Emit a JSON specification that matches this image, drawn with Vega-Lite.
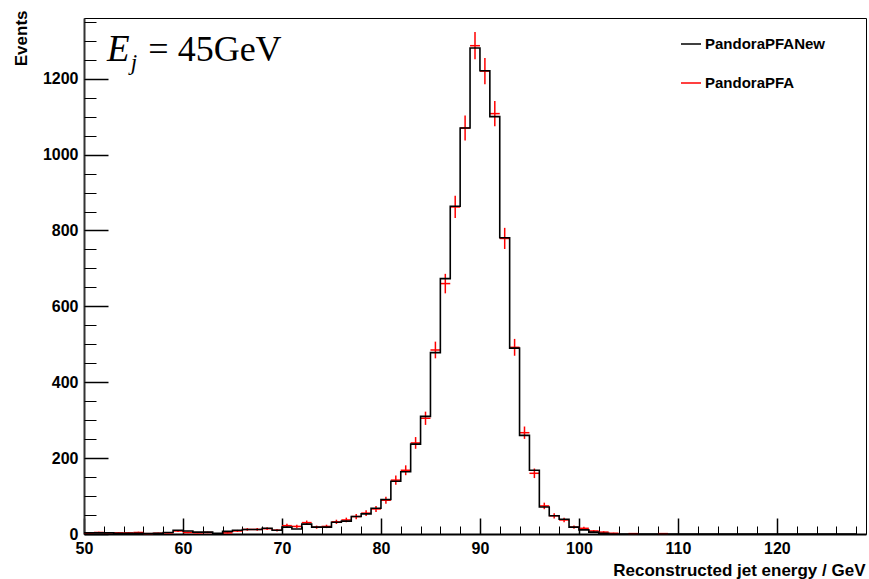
{
  "$schema": "https://vega.github.io/schema/vega-lite/v6.json",
  "width": 782,
  "height": 516,
  "autosize": "none",
  "padding": {"left": 84, "top": 18, "right": 3, "bottom": 45},
  "background": "white",
  "config": {"view": {"stroke": "black", "strokeWidth": 1}, "font": "Liberation Sans"},
  "data": {"values": [
    {"lo":50,"hi":51,"c":50.5,"new":3,"pfa":2,"err":1.4},
    {"lo":51,"hi":52,"c":51.5,"new":3,"pfa":4,"err":2},
    {"lo":52,"hi":53,"c":52.5,"new":3,"pfa":3,"err":1.7},
    {"lo":53,"hi":54,"c":53.5,"new":2,"pfa":3,"err":1.7},
    {"lo":54,"hi":55,"c":54.5,"new":2,"pfa":3,"err":1.7},
    {"lo":55,"hi":56,"c":55.5,"new":2,"pfa":4,"err":2},
    {"lo":56,"hi":57,"c":56.5,"new":1,"pfa":1,"err":1},
    {"lo":57,"hi":58,"c":57.5,"new":2,"pfa":2,"err":1.4},
    {"lo":58,"hi":59,"c":58.5,"new":4,"pfa":3,"err":1.7},
    {"lo":59,"hi":60,"c":59.5,"new":10,"pfa":8,"err":2.8},
    {"lo":60,"hi":61,"c":60.5,"new":8,"pfa":4,"err":2},
    {"lo":61,"hi":62,"c":61.5,"new":5,"pfa":3,"err":1.7},
    {"lo":62,"hi":63,"c":62.5,"new":5,"pfa":4,"err":2},
    {"lo":63,"hi":64,"c":63.5,"new":2,"pfa":0,"err":0},
    {"lo":64,"hi":65,"c":64.5,"new":7,"pfa":3,"err":1.7},
    {"lo":65,"hi":66,"c":65.5,"new":10,"pfa":8,"err":2.8},
    {"lo":66,"hi":67,"c":66.5,"new":12,"pfa":12,"err":3.5},
    {"lo":67,"hi":68,"c":67.5,"new":12,"pfa":12,"err":3.5},
    {"lo":68,"hi":69,"c":68.5,"new":15,"pfa":14,"err":3.7},
    {"lo":69,"hi":70,"c":69.5,"new":10,"pfa":10,"err":3.2},
    {"lo":70,"hi":71,"c":70.5,"new":18,"pfa":22,"err":4.7},
    {"lo":71,"hi":72,"c":71.5,"new":13,"pfa":20,"err":4.5},
    {"lo":72,"hi":73,"c":72.5,"new":26,"pfa":30,"err":5.5},
    {"lo":73,"hi":74,"c":73.5,"new":18,"pfa":18,"err":4.2},
    {"lo":74,"hi":75,"c":74.5,"new":18,"pfa":20,"err":4.5},
    {"lo":75,"hi":76,"c":75.5,"new":31,"pfa":32,"err":5.7},
    {"lo":76,"hi":77,"c":76.5,"new":34,"pfa":37,"err":6.1},
    {"lo":77,"hi":78,"c":77.5,"new":46,"pfa":46,"err":6.8},
    {"lo":78,"hi":79,"c":78.5,"new":53,"pfa":55,"err":7.4},
    {"lo":79,"hi":80,"c":79.5,"new":68,"pfa":66,"err":8.1},
    {"lo":80,"hi":81,"c":80.5,"new":91,"pfa":89,"err":9.4},
    {"lo":81,"hi":82,"c":81.5,"new":139,"pfa":142,"err":11.9},
    {"lo":82,"hi":83,"c":82.5,"new":164,"pfa":168,"err":13},
    {"lo":83,"hi":84,"c":83.5,"new":237,"pfa":240,"err":15.5},
    {"lo":84,"hi":85,"c":84.5,"new":310,"pfa":305,"err":17.5},
    {"lo":85,"hi":86,"c":85.5,"new":478,"pfa":485,"err":22},
    {"lo":86,"hi":87,"c":86.5,"new":673,"pfa":660,"err":25.7},
    {"lo":87,"hi":88,"c":87.5,"new":864,"pfa":862,"err":29.4},
    {"lo":88,"hi":89,"c":88.5,"new":1070,"pfa":1070,"err":32.7},
    {"lo":89,"hi":90,"c":89.5,"new":1281,"pfa":1287,"err":35.9},
    {"lo":90,"hi":91,"c":90.5,"new":1221,"pfa":1220,"err":34.9},
    {"lo":91,"hi":92,"c":91.5,"new":1100,"pfa":1108,"err":33.3},
    {"lo":92,"hi":93,"c":92.5,"new":781,"pfa":779,"err":27.9},
    {"lo":93,"hi":94,"c":93.5,"new":490,"pfa":492,"err":22.2},
    {"lo":94,"hi":95,"c":94.5,"new":260,"pfa":267,"err":16.3},
    {"lo":95,"hi":96,"c":95.5,"new":168,"pfa":160,"err":12.6},
    {"lo":96,"hi":97,"c":96.5,"new":71,"pfa":74,"err":8.6},
    {"lo":97,"hi":98,"c":97.5,"new":48,"pfa":48,"err":6.9},
    {"lo":98,"hi":99,"c":98.5,"new":39,"pfa":37,"err":6.1},
    {"lo":99,"hi":100,"c":99.5,"new":18,"pfa":18,"err":4.2},
    {"lo":100,"hi":101,"c":100.5,"new":11,"pfa":15,"err":3.9},
    {"lo":101,"hi":102,"c":101.5,"new":5,"pfa":8,"err":2.8},
    {"lo":102,"hi":103,"c":102.5,"new":2,"pfa":5,"err":2.2},
    {"lo":103,"hi":104,"c":103.5,"new":0,"pfa":2,"err":1.4},
    {"lo":104,"hi":105,"c":104.5,"new":0,"pfa":0,"err":0},
    {"lo":105,"hi":106,"c":105.5,"new":0,"pfa":1,"err":1},
    {"lo":106,"hi":107,"c":106.5,"new":0,"pfa":0,"err":0},
    {"lo":107,"hi":108,"c":107.5,"new":0,"pfa":0,"err":0},
    {"lo":108,"hi":109,"c":108.5,"new":0,"pfa":1,"err":1},
    {"lo":109,"hi":110,"c":109.5,"new":0,"pfa":0,"err":0},
    {"lo":110,"hi":111,"c":110.5,"new":0,"pfa":0,"err":0},
    {"lo":111,"hi":112,"c":111.5,"new":0,"pfa":0,"err":0},
    {"lo":112,"hi":113,"c":112.5,"new":0,"pfa":0,"err":0},
    {"lo":113,"hi":114,"c":113.5,"new":0,"pfa":0,"err":0},
    {"lo":114,"hi":115,"c":114.5,"new":0,"pfa":0,"err":0},
    {"lo":115,"hi":116,"c":115.5,"new":0,"pfa":0,"err":0},
    {"lo":116,"hi":117,"c":116.5,"new":0,"pfa":0,"err":0},
    {"lo":117,"hi":118,"c":117.5,"new":0,"pfa":0,"err":0},
    {"lo":118,"hi":119,"c":118.5,"new":0,"pfa":0,"err":0},
    {"lo":119,"hi":120,"c":119.5,"new":0,"pfa":0,"err":0},
    {"lo":120,"hi":121,"c":120.5,"new":0,"pfa":0,"err":0},
    {"lo":121,"hi":122,"c":121.5,"new":0,"pfa":0,"err":0},
    {"lo":122,"hi":123,"c":122.5,"new":0,"pfa":0,"err":0},
    {"lo":123,"hi":124,"c":123.5,"new":0,"pfa":0,"err":0},
    {"lo":124,"hi":125,"c":124.5,"new":0,"pfa":0,"err":0},
    {"lo":125,"hi":126,"c":125.5,"new":0,"pfa":0,"err":0},
    {"lo":126,"hi":127,"c":126.5,"new":0,"pfa":0,"err":0},
    {"lo":127,"hi":128,"c":127.5,"new":0,"pfa":0,"err":0},
    {"lo":128,"hi":129,"c":128.5,"new":0,"pfa":0,"err":0}
  ]},
  "layer": [
    {
      "transform": [{"filter": "datum.pfa > 0"}],
      "mark": {"type": "rule", "strokeWidth": 1.5},
      "encoding": {
        "x": {"field": "lo", "type": "quantitative",
          "axis": {"orient": "bottom", "values": [50,60,70,80,90,100,110,120], "labels": false, "domain": false, "grid": false, "ticks": true, "tickSize": -16, "tickWidth": 1.5, "tickColor": "black", "title": null}},
        "x2": {"field": "hi"},
        "y": {"field": "pfa", "type": "quantitative",
          "axis": {"orient": "left", "values": [0,200,400,600,800,1000,1200], "labels": false, "domain": false, "grid": false, "ticks": true, "tickSize": -24, "tickWidth": 1.5, "tickColor": "black", "title": null}},
        "color": {"datum": "PandoraPFA", "type": "nominal"}
      }
    },
    {
      "transform": [{"filter": "datum.pfa > 0"}],
      "mark": {"type": "errorbar", "color": "red", "thickness": 1.5},
      "encoding": {
        "x": {"field": "c", "type": "quantitative", "axis": null},
        "y": {"field": "pfa", "type": "quantitative", "axis": null},
        "yError": {"field": "err"}
      }
    },
    {
      "mark": {"type": "line", "interpolate": "step-after", "strokeWidth": 1.6},
      "encoding": {
        "x": {"field": "lo", "type": "quantitative",
          "scale": {"domain": [50, 129], "nice": false, "zero": false},
          "axis": {"orient": "bottom", "values": [50,60,70,80,90,100,110,120], "format": "d", "ticks": false, "grid": false,
            "labelFont": "Liberation Sans", "labelFontWeight": "bold", "labelFontSize": 16, "labelColor": "black", "labelPadding": 6, "labelFlush": false, "labelOverlap": false,
            "domain": true, "domainColor": "black", "domainWidth": 2,
            "title": "Reconstructed jet energy / GeV", "titleFont": "Liberation Sans", "titleFontWeight": "bold", "titleFontSize": 17, "titleColor": "black",
            "titleAnchor": "end", "titleAlign": "right", "titleBaseline": "alphabetic", "titleX": 781, "titleY": 41}},
        "y": {"field": "new", "type": "quantitative",
          "scale": {"domain": [0, 1360], "nice": false},
          "axis": {"orient": "left", "values": [0,200,400,600,800,1000,1200], "format": "d", "ticks": false, "grid": false,
            "labelFont": "Liberation Sans", "labelFontWeight": "bold", "labelFontSize": 16, "labelColor": "black", "labelPadding": 6, "labelFlush": false, "labelOverlap": false,
            "domain": true, "domainColor": "#333333", "domainWidth": 2,
            "title": "Events", "titleFont": "Liberation Sans", "titleFontWeight": "bold", "titleFontSize": 17, "titleColor": "black",
            "titleAngle": 270, "titleAlign": "right", "titleBaseline": "middle", "titleX": -63, "titleY": -8}},
        "color": {"datum": "PandoraPFANew", "type": "nominal",
          "scale": {"domain": ["PandoraPFANew", "PandoraPFA"], "range": ["black", "red"]},
          "legend": {"orient": "none", "legendX": 596, "legendY": 15, "title": null, "symbolType": "stroke", "symbolSize": 400, "symbolStrokeWidth": 1.5,
            "labelFont": "Liberation Sans", "labelFontWeight": "bold", "labelFontSize": 15, "labelColor": "black", "labelOffset": 3, "rowPadding": 20, "padding": 0}}
      }
    },
    {
      "data": {"values": [{}]},
      "mark": {"type": "text", "font": "Liberation Serif", "fontStyle": "italic", "fontSize": 37, "align": "left", "baseline": "alphabetic", "color": "black"},
      "encoding": {
        "x": {"datum": 52.32, "type": "quantitative",
          "axis": {"orient": "bottom", "values": [50,52,54,56,58,60,62,64,66,68,70,72,74,76,78,80,82,84,86,88,90,92,94,96,98,100,102,104,106,108,110,112,114,116,118,120,122,124,126,128], "labels": false, "domain": false, "grid": false, "ticks": true, "tickSize": -8, "tickWidth": 1, "tickColor": "black", "title": null}},
        "y": {"datum": 1247, "type": "quantitative",
          "axis": {"orient": "left", "values": [0,50,100,150,200,250,300,350,400,450,500,550,600,650,700,750,800,850,900,950,1000,1050,1100,1150,1200,1250,1300,1350], "labels": false, "domain": false, "grid": false, "ticks": true, "tickSize": -12, "tickWidth": 1, "tickColor": "black", "title": null}},
        "text": {"value": "E"}
      }
    },
    {
      "data": {"values": [{}]},
      "mark": {"type": "text", "font": "Liberation Serif", "fontStyle": "italic", "fontSize": 23, "align": "left", "baseline": "alphabetic", "color": "black"},
      "encoding": {
        "x": {"datum": 54.72, "type": "quantitative", "axis": null},
        "y": {"datum": 1223, "type": "quantitative", "axis": null},
        "text": {"value": "j"}
      }
    },
    {
      "data": {"values": [{}]},
      "mark": {"type": "text", "font": "Liberation Serif", "fontSize": 36, "align": "left", "baseline": "alphabetic", "color": "black"},
      "encoding": {
        "x": {"datum": 56.5, "type": "quantitative", "axis": null},
        "y": {"datum": 1247, "type": "quantitative", "axis": null},
        "text": {"value": "= 45GeV"}
      }
    }
  ],
  "resolve": {"axis": {"x": "independent", "y": "independent"}}
}
